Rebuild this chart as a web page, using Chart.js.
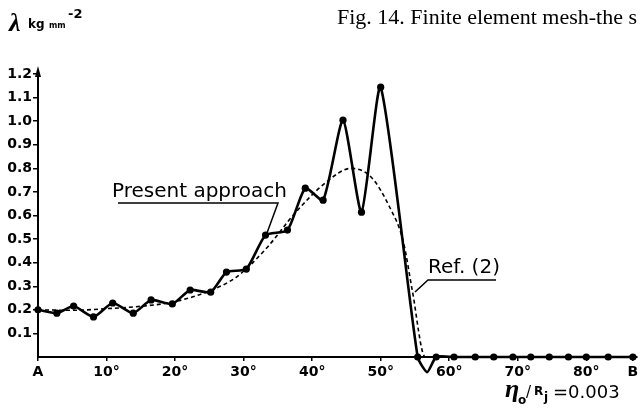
<!DOCTYPE html>
<html>
<head>
<meta charset="utf-8">
<script src="https://cdn.jsdelivr.net/npm/chart.js@4.4.0/dist/chart.umd.min.js"></script>
<style>
body { margin: 0; background: #fff; }
</style>
</head>
<body>
<canvas id="myChart" width="641" height="416"></canvas>
<script>
// Present approach: angulo (grados) y lambda (kg mm-2)
var anguloPresente = [0, 2.75, 5.2, 8.1, 10.9, 13.9, 16.5, 19.6, 22.2, 25.2, 27.5, 30.4, 33.2, 36.4, 39.0, 41.6, 44.5, 47.2, 50.0, 55.4, 56.8, 58.1, 60.7, 63.8, 66.5, 69.3, 71.9, 74.6, 77.4, 80.0, 83.2, 86.8];
var lambdaPresente = [0.20, 0.186, 0.216, 0.17, 0.229, 0.186, 0.242, 0.225, 0.284, 0.275, 0.36, 0.373, 0.517, 0.538, 0.716, 0.665, 1.004, 0.614, 1.144, 0, -0.064, 0, 0, 0, 0, 0, 0, 0, 0, 0, 0, 0];
// Ref. (2)
var anguloRef = [0, 5, 10, 15, 20, 25, 29, 33.3, 37.5, 42, 45.7, 48.6, 51.3, 53.3, 54.6, 56.5, 60, 87];
var lambdaRef = [0.20, 0.198, 0.205, 0.215, 0.235, 0.28, 0.34, 0.46, 0.61, 0.74, 0.80, 0.763, 0.636, 0.49, 0.284, 0, 0, 0];
// ejes
var ticksX = [0, 10, 20, 30, 40, 50, 60, 70, 80, 86.8];
var etiquetasX = ['A', '10°', '20°', '30°', '40°', '50°', '60°', '70°', '80°', 'B'];
var ticksY = [0.1, 0.2, 0.3, 0.4, 0.5, 0.6, 0.7, 0.8, 0.9, 1.0, 1.1, 1.2];
var etiquetasY = ['0.1', '0.2', '0.3', '0.4', '0.5', '0.6', '0.7', '0.8', '0.9', '1.0', '1.1', '1.2'];

function puntos(xs, ys) {
    return xs.map(function (x, i) { return { x: x, y: ys[i] }; });
}

//Dibuja textos y flechas encima del grafico
var anotaciones = {
    id: 'anotaciones',
    afterDraw: function (chart) {
        var ctx = chart.ctx;
        var ejeX = chart.scales.x, ejeY = chart.scales.y;
        ctx.save();
        ctx.fillStyle = '#000';
        ctx.strokeStyle = '#000';
        ctx.textBaseline = 'alphabetic';
        ctx.textAlign = 'left';

        // flecha del eje y
        var x0 = ejeX.left;
        ctx.beginPath();
        ctx.moveTo(x0, ejeY.top - 8);
        ctx.lineTo(x0 - 3, ejeY.top + 3);
        ctx.lineTo(x0 + 3, ejeY.top + 3);
        ctx.closePath();
        ctx.fill();
        ctx.lineWidth = 2;
        ctx.beginPath();
        ctx.moveTo(x0, ejeY.top);
        ctx.lineTo(x0, ejeY.top - 4);
        ctx.stroke();

        // unidad del eje y
        ctx.font = 'bold italic 26px "Liberation Serif"';
        ctx.fillText('λ', 9, 31);
        ctx.font = 'bold 12px "DejaVu Sans"';
        ctx.fillText('kg', 28, 28);
        ctx.font = 'bold 8px "DejaVu Sans"';
        ctx.fillText('mm', 49, 28);
        ctx.font = 'bold 13px "DejaVu Sans"';
        ctx.fillText('-2', 68, 18);

        // titulo cortado
        ctx.font = '22px "Liberation Serif"';
        ctx.fillText('Fig. 14. Finite element mesh-the s', 337, 24);

        // Present approach
        ctx.font = '20px "DejaVu Sans"';
        ctx.fillText('Present approach', 112, 197);
        ctx.lineWidth = 1.5;
        ctx.beginPath();
        ctx.moveTo(118, 203);
        ctx.lineTo(278, 203);
        ctx.lineTo(267, 233);
        ctx.stroke();

        // Ref. (2)
        ctx.fillText('Ref. (2)', 428, 273);
        ctx.beginPath();
        ctx.moveTo(496, 280);
        ctx.lineTo(428, 280);
        ctx.lineTo(415, 292);
        ctx.stroke();

        // parametro
        ctx.font = 'bold italic 26px "Liberation Serif"';
        ctx.fillText('η', 505, 397);
        ctx.font = 'bold 12px "DejaVu Sans"';
        ctx.fillText('o', 518, 404);
        ctx.font = '15px "DejaVu Sans"';
        ctx.fillText('/', 526, 397);
        ctx.font = 'bold 12px "DejaVu Sans"';
        ctx.fillText('R', 534, 395);
        ctx.fillText('j', 544, 401);
        ctx.font = '18px "DejaVu Sans"';
        ctx.fillText('=0.003', 553, 398);
        ctx.restore();
    }
};

var canvas = document.getElementById('myChart');
var ctx = canvas.getContext('2d');

var data = {
    datasets: [{
        label: 'Present approach',
        data: puntos(anguloPresente, lambdaPresente),
        borderColor: '#000',
        backgroundColor: '#000',
        borderWidth: 2.6,
        tension: 0.2,
        pointRadius: function (c) { return c.raw && c.raw.y < 0 ? 0 : 3.6; },
        pointBorderWidth: 0,
        clip: false,
        fill: false
    }, {
        label: 'Ref. (2)',
        data: puntos(anguloRef, lambdaRef),
        borderColor: '#000',
        borderWidth: 1.6,
        borderDash: [4, 3],
        cubicInterpolationMode: 'monotone',
        pointRadius: 0,
        clip: false,
        fill: false
    }]
};

var fuenteTicks = { family: '"DejaVu Sans"', size: 14, weight: 'bold' };

var options = {
    responsive: false,
    animation: false,
    layout: { padding: { top: 74, left: 0, right: 0, bottom: 0 } },
    elements: { line: { capBezierPoints: false } },
    plugins: { legend: { display: false }, tooltip: { enabled: false } },
    scales: {
        x: {
            type: 'linear',
            min: 0,
            max: 87.4,
            afterBuildTicks: function (s) {
                s.ticks = ticksX.map(function (v) { return { value: v }; });
            },
            afterFit: function (s) {
                s.height = 59;
                s.paddingLeft = 0; s.paddingRight = 0;
            },
            ticks: {
                autoSkip: false,
                maxRotation: 0,
                color: '#000',
                padding: 3,
                font: fuenteTicks,
                callback: function (v) { return etiquetasX[ticksX.indexOf(v)]; }
            },
            grid: { drawOnChartArea: false, drawTicks: true, tickLength: 4, color: '#000', lineWidth: 1.5 },
            border: { color: '#000', width: 2 }
        },
        y: {
            type: 'linear',
            min: 0,
            max: 1.2,
            afterBuildTicks: function (s) {
                s.ticks = ticksY.map(function (v) { return { value: v }; });
            },
            afterFit: function (s) {
                s.width = 38;
                s.paddingTop = 0; s.paddingBottom = 0;
            },
            ticks: {
                color: '#000',
                padding: 1,
                font: fuenteTicks,
                callback: function (v) { return etiquetasY[ticksY.indexOf(v)]; }
            },
            grid: { drawOnChartArea: false, drawTicks: true, tickLength: 5, color: '#000', lineWidth: 1.5 },
            border: { color: '#000', width: 2 }
        }
    }
};

var myChart = new Chart(ctx, {
    type: 'line',
    data: data,
    options: options,
    plugins: [anotaciones]
});
</script>
</body>
</html>
